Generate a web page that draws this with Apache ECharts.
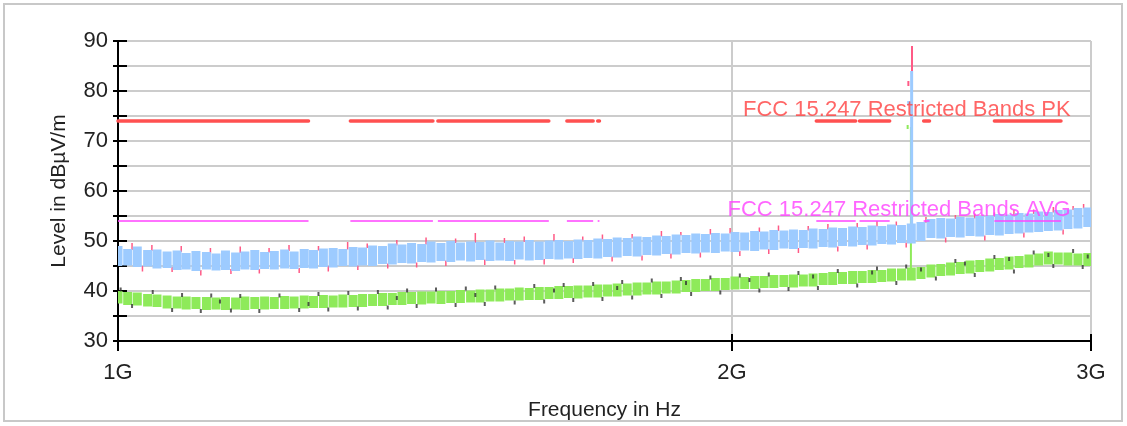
<!DOCTYPE html>
<html>
<head>
<meta charset="utf-8">
<script src="https://cdn.jsdelivr.net/npm/echarts@6/dist/echarts.min.js"></script>
<style>
  html, body { margin: 0; padding: 0; background: #fff; }
  #chart { width: 1127px; height: 426px; }
</style>
</head>
<body>
<div id="chart"></div>
<script>
// frequencies in MHz of the sweep blocks
const freqs = [
  1000, 1011, 1022, 1034, 1045, 1057, 1069, 1080, 1092, 1105,
  1117, 1129, 1142, 1154, 1167, 1180, 1193, 1207, 1220, 1234,
  1247, 1261, 1275, 1289, 1304, 1318, 1333, 1348, 1363, 1378,
  1393, 1409, 1424, 1440, 1456, 1472, 1489, 1505, 1522, 1539,
  1556, 1573, 1591, 1609, 1627, 1645, 1663, 1681, 1700, 1719,
  1738, 1757, 1777, 1797, 1817, 1837, 1857, 1878, 1899, 1920,
  1941, 1963, 1985, 2007, 2029, 2052, 2074, 2097, 2121, 2144,
  2168, 2192, 2217, 2241, 2266, 2292, 2317, 2343, 2369, 2395,
  2422, 2449, 2476, 2504, 2532, 2560, 2588, 2617, 2646, 2676,
  2705, 2735, 2766, 2797, 2828, 2859, 2891, 2923, 2956, 2989
];

// peak trace (light blue), min / max per block in dBµV/m
const peakLo = [
  45.0, 45.1, 44.8, 44.9, 44.5, 44.6, 44.2, 44.3, 44.0, 44.3,
  44.1, 44.2, 44.0, 44.3, 44.2, 44.4, 44.3, 44.5, 44.4, 44.6,
  44.5, 44.8, 44.7, 45.0, 44.9, 45.1, 45.0, 45.4, 45.3, 45.6,
  45.5, 45.8, 45.7, 46.0, 45.8, 46.1, 45.9, 46.2, 46.0, 46.1,
  46.0, 46.3, 46.1, 46.2, 46.4, 46.3, 46.5, 46.4, 46.6, 46.5,
  46.8, 46.7, 47.0, 46.9, 47.2, 47.1, 47.4, 47.3, 47.6, 47.5,
  47.7, 47.6, 47.9, 47.8, 48.1, 48.0, 48.3, 48.2, 48.5, 48.4,
  48.6, 48.5, 48.8, 48.7, 49.0, 48.9, 49.2, 49.1, 49.4, 49.3,
  49.6, 49.5, 50.0, 50.6, 50.5, 50.8, 50.7, 51.0, 50.9, 51.2,
  51.1, 51.4, 51.5, 51.7, 51.8, 52.0, 52.1, 52.4, 52.5, 52.8
];
const peakHi = [
  49.0, 48.4, 48.9, 48.2, 48.3, 47.9, 48.1, 47.6, 48.0, 47.8,
  47.5, 48.1, 47.7, 47.9, 48.2, 47.8, 48.0, 48.3, 47.9, 48.4,
  48.2, 48.5, 48.6, 48.4, 48.8, 48.7, 49.1, 49.0, 49.5, 49.3,
  49.6, 49.4, 49.9, 49.6, 50.0, 49.7, 49.9, 49.8, 50.1, 49.7,
  50.0, 49.9, 50.2, 49.9, 50.1, 50.2, 50.0, 50.3, 50.2, 50.5,
  50.4, 50.7, 50.6, 50.9, 50.8, 51.1, 51.0, 51.3, 51.2, 51.5,
  51.4, 51.6, 51.5, 51.8, 51.7, 52.0, 51.9, 52.2, 52.1, 52.3,
  52.2, 52.5, 52.4, 52.7, 52.6, 52.9, 52.8, 53.1, 53.0, 53.3,
  53.2, 53.5, 53.8, 54.4, 54.6, 54.5, 54.8, 54.7, 55.0, 55.1,
  55.4, 55.3, 55.6, 55.5, 55.9, 55.8, 56.2, 56.3, 56.6, 56.7
];

// average trace (green), min / max per block
const avgLo = [
  37.5, 37.2, 37.1, 36.9, 36.8, 36.5, 36.5, 36.3, 36.4, 36.2,
  36.3, 36.2, 36.3, 36.2, 36.4, 36.3, 36.4, 36.4, 36.5, 36.5,
  36.6, 36.6, 36.7, 36.7, 36.8, 36.8, 37.0, 37.0, 37.2, 37.2,
  37.4, 37.3, 37.5, 37.4, 37.6, 37.6, 37.7, 37.7, 37.9, 37.9,
  38.1, 38.1, 38.2, 38.2, 38.4, 38.4, 38.6, 38.5, 38.7, 38.7,
  38.9, 38.9, 39.1, 39.1, 39.3, 39.3, 39.5, 39.5, 39.8, 39.8,
  40.0, 40.0, 40.2, 40.3, 40.4, 40.4, 40.6, 40.6, 40.8, 40.7,
  40.9, 40.9, 41.2, 41.2, 41.4, 41.4, 41.6, 41.6, 41.8, 41.9,
  42.1, 42.1, 42.4, 42.7, 43.0, 43.1, 43.4, 43.5, 43.8, 43.9,
  44.2, 44.3, 44.6, 44.7, 45.1, 45.3, 45.3, 45.1, 45.1, 45.0
];
const avgHi = [
  40.0, 39.8, 39.7, 39.4, 39.3, 39.1, 38.9, 38.9, 38.8, 38.8,
  38.7, 38.8, 38.7, 38.9, 38.8, 38.9, 38.8, 39.0, 38.9, 39.1,
  39.0, 39.2, 39.1, 39.3, 39.2, 39.4, 39.4, 39.6, 39.6, 39.8,
  39.8, 39.9, 39.9, 40.0, 40.0, 40.2, 40.1, 40.3, 40.3, 40.5,
  40.5, 40.7, 40.6, 40.8, 40.8, 41.0, 41.0, 41.1, 41.1, 41.3,
  41.3, 41.5, 41.5, 41.7, 41.7, 41.9, 41.9, 42.1, 42.2, 42.4,
  42.4, 42.6, 42.6, 42.9, 42.8, 43.0, 43.0, 43.2, 43.2, 43.3,
  43.3, 43.5, 43.6, 43.8, 43.8, 44.0, 44.0, 44.2, 44.2, 44.5,
  44.5, 44.7, 44.8, 45.3, 45.4, 45.7, 45.8, 46.1, 46.2, 46.5,
  46.6, 46.9, 47.0, 47.3, 47.5, 47.9, 47.7, 47.7, 47.5, 47.6
];

// pink peak excursions beyond the blue band [MHz, from, to]
const peakSpikes = [
  [1016, 48.2, 49.6], [1039, 48.0, 49.2], [1074, 47.8, 49.0], [1110, 47.5, 48.6],
  [1148, 47.6, 48.9], [1186, 47.7, 48.6], [1213, 48.0, 49.2], [1254, 48.1, 49.0],
  [1296, 48.3, 49.8], [1325, 48.6, 49.5], [1370, 49.1, 50.2], [1416, 49.3, 50.7],
  [1464, 49.6, 50.5], [1497, 49.6, 51.6], [1547, 49.6, 50.6], [1582, 49.8, 50.9],
  [1636, 50.0, 51.4], [1690, 50.1, 50.9], [1728, 50.3, 51.3], [1787, 50.5, 51.4],
  [1847, 50.9, 52.0], [1888, 51.1, 51.8], [1952, 51.3, 52.4], [1996, 51.5, 52.6],
  [2063, 51.8, 52.7], [2108, 52.0, 53.1], [2180, 52.1, 53.0], [2229, 52.3, 53.4],
  [2304, 52.7, 53.6], [2356, 52.9, 54.0], [2408, 53.1, 53.9], [2490, 53.6, 54.8],
  [2574, 54.4, 55.2], [2631, 54.5, 55.5], [2690, 54.9, 55.7], [2750, 55.2, 56.2],
  [2812, 55.4, 56.3], [2875, 55.7, 56.8], [2940, 56.2, 57.0], [2975, 56.5, 57.4],
  [1028, 43.9, 45.0], [1063, 43.8, 44.8], [1098, 43.1, 44.2], [1136, 43.4, 44.4],
  [1173, 43.5, 44.4], [1227, 43.6, 44.6], [1268, 43.9, 45.0], [1311, 44.2, 45.1],
  [1356, 44.5, 45.5], [1401, 44.7, 45.7], [1448, 45.0, 46.1], [1513, 45.2, 46.3],
  [1565, 45.3, 46.2], [1618, 45.3, 46.4], [1672, 45.6, 46.6], [1747, 45.9, 46.9],
  [1807, 46.1, 47.1], [1867, 46.5, 47.5], [1930, 46.7, 47.7], [2018, 47.0, 48.0],
  [2085, 47.4, 48.4], [2156, 47.6, 48.6], [2254, 47.9, 48.9], [2330, 48.3, 49.3],
  [2435, 48.7, 49.7], [2546, 49.7, 50.7], [2661, 50.1, 51.1], [2781, 50.7, 51.7],
  [2907, 51.3, 52.3]
];

// dark average specks [MHz, level]
const avgSpecks = [
  [1003, 40.3], [1016, 37.0], [1040, 39.8], [1063, 36.2], [1075, 39.2], [1098, 36.0],
  [1111, 39.1], [1136, 36.1], [1148, 39.0], [1173, 36.0], [1200, 39.1], [1227, 36.2],
  [1254, 39.4], [1268, 36.3], [1297, 39.6], [1311, 36.5], [1341, 39.8], [1356, 36.7],
  [1386, 40.1], [1401, 37.0], [1432, 40.3], [1464, 37.2], [1481, 40.5], [1513, 37.4],
  [1531, 40.7], [1565, 37.7], [1600, 41.0], [1618, 37.9], [1654, 41.2], [1672, 38.2],
  [1710, 41.4], [1728, 38.4], [1767, 41.8], [1787, 38.7], [1827, 42.1], [1847, 39.0],
  [1888, 42.4], [1910, 39.4], [1952, 42.7], [1974, 39.7], [2018, 43.1], [2063, 40.1],
  [2085, 43.3], [2132, 40.4], [2156, 43.6], [2204, 40.6], [2254, 44.0], [2304, 41.1],
  [2356, 44.5], [2408, 41.6], [2435, 44.9], [2518, 42.5], [2574, 46.0], [2631, 43.2],
  [2690, 46.8], [2750, 43.9], [2812, 47.7], [2875, 45.0], [2940, 48.0], [2972, 44.8],
  [1122, 37.9], [1240, 37.4], [1370, 38.6], [1497, 39.2], [1636, 40.1], [1757, 40.6],
  [1899, 41.6], [2040, 42.2], [2192, 42.9], [2343, 43.7], [2476, 44.3], [2602, 45.5],
  [2735, 46.4], [2859, 47.2], [2989, 46.9]
];

// carrier at 2.45 GHz [MHz, from, to]
const carrierPeak = [[2451, 52.0, 89.0], [2441, 81.0, 82.0]];
const carrierAvg = [[2448, 43.5, 72.8], [2439, 72.4, 73.2]];
const carrierBlue = [[2450, 51.0, 84.0], [2442, 77.2, 78.0]];

// FCC 15.205 restricted bands, MHz
const restrictedBands = [
  [1000, 1240], [1300, 1427], [1435, 1626.5], [1645.5, 1646.5], [1660, 1710],
  [1718.8, 1722.2], [2200, 2300], [2310, 2390], [2483.5, 2500], [2690, 2900]
];
const pkLimit = 74;
const avgLimit = 54;
const labelFreq = 2932;

const xTicks = [1000, 2000, 3000];

const FONT = '"Liberation Sans", Arial, sans-serif';

function limitLine(level) {
  const pts = [];
  restrictedBands.forEach(b => {
    pts.push([b[0], level], [b[1], level], ['-', '-']);
  });
  return pts;
}

function column(width) {
  return function (params, api) {
    const top = api.coord([api.value(0), api.value(2)]);
    const bottom = api.coord([api.value(0), api.value(1)]);
    return {
      type: 'rect',
      shape: { x: top[0] - width / 2, y: top[1], width: width, height: bottom[1] - top[1] },
      style: { fill: api.visual('color') }
    };
  };
}

function columnSeries(data, color, width) {
  return {
    type: 'custom',
    renderItem: column(width),
    data: data,
    encode: { x: 0, y: [1, 2] },
    itemStyle: { color: color },
    clip: true,
    silent: true
  };
}

const blocks = (lo, hi) => freqs.map((f, i) => [f, lo[i], hi[i]]);

const chart = echarts.init(document.getElementById('chart'));
chart.setOption({
  animation: false,
  backgroundColor: '#fff',
  graphic: [{
    type: 'rect',
    shape: { x: 4, y: 4, width: 1118, height: 417 },
    style: { fill: 'none', stroke: '#c8c8c8', lineWidth: 2 },
    z: -1
  }],
  grid: { left: 118, right: 36, top: 41, bottom: 84 },
  xAxis: [{
    type: 'log',
    position: 'bottom',
    min: 1000,
    max: 3000,
    name: 'Frequency in Hz',
    nameLocation: 'middle',
    nameGap: 59,
    nameTextStyle: { fontSize: 21, color: '#222', fontFamily: FONT },
    axisLine: { lineStyle: { color: '#000', width: 2 } },
    axisTick: { customValues: xTicks, length: 10, lineStyle: { color: '#000', width: 2 } },
    axisLabel: {
      customValues: xTicks,
      formatter: v => (v / 1000) + 'G',
      fontSize: 22, color: '#222', fontFamily: FONT, margin: 21
    },
    splitLine: { show: true, lineStyle: { color: '#cccccc', width: 2 } }
  }, {
    type: 'log',
    position: 'bottom',
    min: 1000,
    max: 3000,
    axisLine: { show: false },
    axisTick: { customValues: xTicks, inside: true, length: 7, lineStyle: { color: '#000', width: 2 } },
    axisLabel: { show: false },
    splitLine: { show: false }
  }],
  yAxis: [{
    type: 'value',
    position: 'left',
    min: 30,
    max: 90,
    interval: 5,
    name: 'Level in dBµV/m',
    nameLocation: 'middle',
    nameGap: 48,
    nameTextStyle: { fontSize: 21, color: '#222', fontFamily: FONT },
    axisLine: { show: true, lineStyle: { color: '#000', width: 2 } },
    axisTick: { length: 5, lineStyle: { color: '#000', width: 2 } },
    axisLabel: {
      formatter: v => (v % 10 === 0 ? String(v) : ''),
      fontSize: 22, color: '#222', fontFamily: FONT, margin: 10
    },
    splitLine: { show: true, lineStyle: { color: '#cccccc', width: 2 } }
  }, {
    type: 'value',
    position: 'left',
    min: 30,
    max: 90,
    interval: 5,
    axisLine: { show: false },
    axisTick: { show: true, inside: true, length: 9, lineStyle: { color: '#000', width: 2 } },
    axisLabel: { show: false },
    splitLine: { show: false }
  }],
  series: [
    columnSeries(peakSpikes, '#ff5a86', 1.5),
    columnSeries(carrierPeak, '#ff5a86', 2),
    columnSeries(carrierAvg, '#8eea5a', 2),
    columnSeries(blocks(peakLo, peakHi), '#9dcbff', 9),
    columnSeries(carrierBlue, '#9dcbff', 3),
    columnSeries(blocks(avgLo, avgHi), '#8eea5a', 9),
    {
      type: 'scatter',
      data: avgSpecks,
      symbol: 'rect',
      symbolSize: [2, 4],
      itemStyle: { color: '#333' },
      silent: true
    },
    {
      type: 'line',
      data: limitLine(pkLimit),
      showSymbol: false,
      connectNulls: false,
      lineStyle: { color: '#ff5050', width: 3.5, cap: 'round' },
      silent: true
    },
    {
      type: 'line',
      data: limitLine(avgLimit),
      showSymbol: false,
      connectNulls: false,
      lineStyle: { color: '#ff44ff', width: 1.5 },
      silent: true
    },
    {
      type: 'scatter',
      symbolSize: 0,
      silent: true,
      data: [[labelFreq, pkLimit]],
      label: {
        show: true, position: 'top', align: 'right', distance: 0,
        formatter: 'FCC 15.247 Restricted Bands PK',
        color: '#ff4040', fontSize: 22, fontFamily: FONT
      }
    },
    {
      type: 'scatter',
      symbolSize: 0,
      silent: true,
      data: [[labelFreq, avgLimit]],
      label: {
        show: true, position: 'top', align: 'right', distance: 0,
        formatter: 'FCC 15.247 Restricted Bands AVG',
        color: '#ff40ff', fontSize: 22, fontFamily: FONT
      }
    }
  ]
});
</script>
</body>
</html>
